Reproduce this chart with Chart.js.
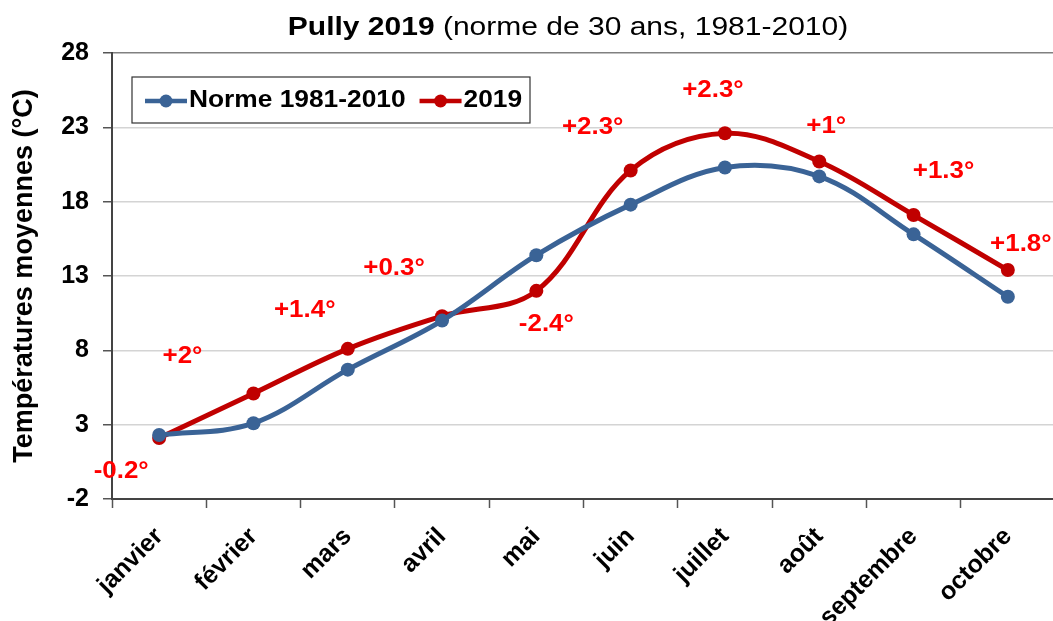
<!DOCTYPE html>
<html>
<head>
<meta charset="utf-8">
<script src="https://cdn.jsdelivr.net/npm/chart.js@4"></script>
<style>
  html, body { margin: 0; padding: 0; background: #ffffff; overflow: hidden; }
  #wrap { width: 1062px; height: 621px; position: relative; }
</style>
</head>
<body>
<div id="wrap"><canvas id="c"></canvas></div>
<script>
// ---- data ----
const months = ['janvier', 'février', 'mars', 'avril', 'mai', 'juin', 'juillet', 'août', 'septembre', 'octobre'];
const normeValues = [2.3, 3.1, 6.7, 10.0, 14.4, 17.8, 20.3, 19.7, 15.8, 11.6];
const values2019 = [2.1, 5.1, 8.1, 10.3, 12.0, 20.1, 22.6, 20.7, 17.1, 13.4];
const deltaLabels = ['-0.2°', '+2°', '+1.4°', '+0.3°', '-2.4°', '+2.3°', '+2.3°', '+1°', '+1.3°', '+1.8°'];
const seriesNames = ['Norme 1981-2010', '2019'];
const titleBold = 'Pully 2019';
const titleRest = ' (norme de 30 ans, 1981-2010)';
const yTitle = 'Températures moyennes (°C)';
const yMin = -2, yMax = 28, yStep = 5;

// ---- style ----
const FONT = '"Liberation Sans", Arial, sans-serif';
const BLUE = '#3a6396';
const RED = '#c00000';
const STRETCH = 1.12;
// pixel offsets of the difference labels relative to the 2019 points
const labelOffsets = [[-38, 33], [-71, -37], [-43, -38], [-48, -48], [10, 34], [-38, -43], [-12, -43], [7, -35], [30, -44], [13, -26]];

function stretchedText(ctx, text, x, y, align, s) {
  ctx.save();
  ctx.translate(x, y);
  ctx.scale(s || STRETCH, 1);
  ctx.textAlign = align;
  ctx.fillText(text, 0, 0);
  ctx.restore();
}

const deco = {
  id: 'deco',
  afterDraw(chart) {
    const ctx = chart.ctx;
    ctx.save();
    // title
    const TS = 1.2;
    ctx.fillStyle = '#000';
    ctx.textBaseline = 'alphabetic';
    ctx.font = 'bold 25px ' + FONT;
    const wB = ctx.measureText(titleBold).width * TS;
    ctx.font = '25px ' + FONT;
    const wR = ctx.measureText(titleRest).width * TS;
    const tx = 568 - (wB + wR) / 2;
    ctx.font = 'bold 25px ' + FONT;
    stretchedText(ctx, titleBold, tx, 35, 'left', TS);
    ctx.font = '25px ' + FONT;
    stretchedText(ctx, titleRest, tx + wB, 35, 'left', TS);

    // difference labels
    const meta = chart.getDatasetMeta(1);
    ctx.font = 'bold 24px ' + FONT;
    ctx.fillStyle = '#ff0000';
    ctx.textBaseline = 'middle';
    meta.data.forEach((pt, i) => {
      stretchedText(ctx, deltaLabels[i], pt.x + labelOffsets[i][0], pt.y + labelOffsets[i][1], 'center', 1.08);
    });

    // legend box
    const bx = 132, by = 77, bw = 398, bh = 46;
    ctx.fillStyle = '#fff';
    ctx.fillRect(bx, by, bw, bh);
    ctx.strokeStyle = '#333';
    ctx.lineWidth = 1.2;
    ctx.strokeRect(bx, by, bw, bh);
    const ly = by + bh / 2 + 1;
    let x = bx + 13;
    ctx.font = 'bold 23.5px ' + FONT;
    ctx.textBaseline = 'middle';
    chart.data.datasets.forEach((ds, i) => {
      ctx.strokeStyle = ds.borderColor;
      ctx.lineWidth = 4.5;
      ctx.beginPath();
      ctx.moveTo(x, ly);
      ctx.lineTo(x + 42, ly);
      ctx.stroke();
      ctx.fillStyle = ds.borderColor;
      ctx.beginPath();
      ctx.arc(x + 21, ly, 6.5, 0, Math.PI * 2);
      ctx.fill();
      ctx.fillStyle = '#000';
      stretchedText(ctx, ds.label, x + 44, ly, 'left');
      x += 44 + ctx.measureText(ds.label).width * STRETCH + 14;
    });
    ctx.restore();
  }
};

new Chart(document.getElementById('c'), {
  type: 'line',
  data: {
    labels: months,
    datasets: [
      { label: seriesNames[0], data: normeValues, borderColor: BLUE, backgroundColor: BLUE },
      { label: seriesNames[1], data: values2019, borderColor: RED, backgroundColor: RED }
    ]
  },
  options: {
    responsive: true,
    maintainAspectRatio: false,
    animation: false,
    events: [],
    layout: { padding: { top: 53, left: 0, right: 0, bottom: 0 } },
    elements: {
      line: { borderWidth: 5, tension: 0.36, fill: false, borderCapStyle: 'round', borderJoinStyle: 'round' },
      point: { radius: 7, borderWidth: 0, hoverRadius: 7 }
    },
    datasets: { line: { clip: false } },
    plugins: {
      legend: { display: false },
      title: { display: false },
      tooltip: { enabled: false }
    },
    scales: {
      x: {
        offset: true,
        grid: { offset: true, drawOnChartArea: false, drawTicks: true, tickLength: 9, tickColor: '#555', tickWidth: 1.5 },
        border: { color: '#444', width: 2 },
        ticks: {
          color: '#000', font: { family: FONT, size: 25, weight: 'bold' },
          minRotation: 45, maxRotation: 45, padding: 14, autoSkip: false
        },
        afterFit(scale) { scale.height = 122; }
      },
      y: {
        min: yMin, max: yMax,
        grid: {
          color: (c) => (c.tick && c.tick.value === yMax ? '#808080' : '#d4d4d4'),
          lineWidth: 1.5, tickLength: 9, tickColor: '#555', tickWidth: 1.5
        },
        border: { color: '#444', width: 2 },
        ticks: {
          stepSize: yStep, color: '#000', padding: 14,
          font: { family: FONT, size: 25, weight: 'bold' }
        },
        title: {
          display: true, text: yTitle, color: '#000',
          font: { family: FONT, size: 27, weight: 'bold' },
          padding: { top: 8, bottom: 0 }
        },
        afterFit(scale) { scale.width = 112; }
      }
    }
  },
  plugins: [deco]
});
</script>
</body>
</html>
